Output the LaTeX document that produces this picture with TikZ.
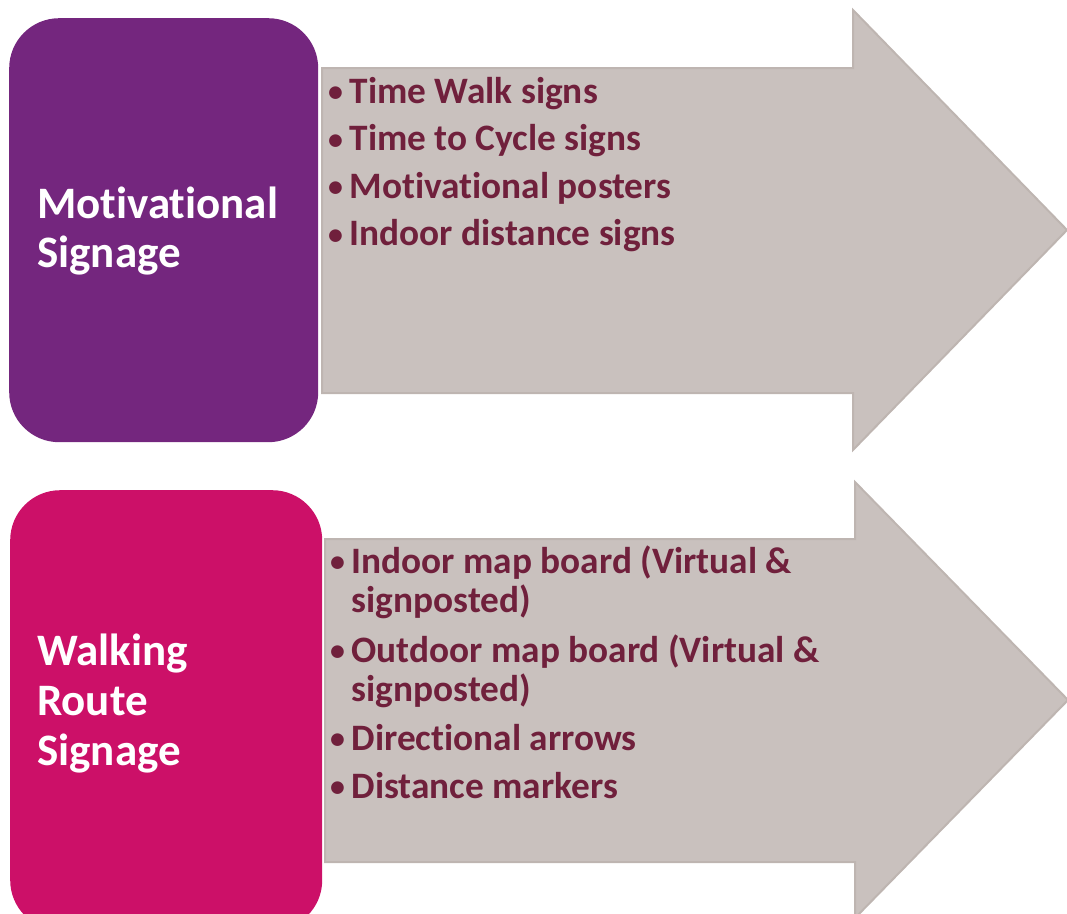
\documentclass[tikz,border=0pt]{standalone}
\usepackage{fontspec}
\setmainfont{Carlito}[Ligatures=NoCommon]
\usetikzlibrary{positioning}

\definecolor{motivpurple}{HTML}{74267E}
\definecolor{walkpink}{HTML}{CC1068}
\definecolor{arrowgrey}{HTML}{C9C1BE}
\definecolor{arrowedge}{HTML}{BEB5B1}
\definecolor{itemred}{HTML}{70203C}

\newcommand{\itm}{\makebox[21.5pt][l]{\raisebox{0.03em}{\scalebox{0.8}{\textbullet}}}}
\tikzset{
  catbox/.style={draw=none, rounded corners=50pt, inner sep=0pt},
  catlabel/.style={anchor=base west, text width=275pt, align=flush left, text=white,
    font=\fontsize{45}{49}\selectfont\bfseries, inner sep=0pt},
  bigarrow/.style={fill=arrowgrey, draw=arrowedge, line width=2pt, line join=miter},
  item/.style={anchor=base west, text width=700pt, align=flush left, text=itemred,
    font=\fontsize{37.3}{39.5}\selectfont\bfseries, inner sep=0pt}
}

\begin{document}
\begin{tikzpicture}[x=1pt, y=-1pt]
  \useasboundingbox (0,0) rectangle (1067,913);
  \clip (0,0) rectangle (1067,913);

  % ARROWS
  % top arrow
  \draw[bigarrow] (322,68) -- (853,68) -- (853,10) -- (1067,230)
    -- (853,450) -- (853,393) -- (322,393) -- cycle;
  % bottom arrow
  \draw[bigarrow] (325,539) -- (855,539) -- (855,482) -- (1068,700)
    -- (855,918) -- (855,862) -- (325,862) -- cycle;

  % BOXES
  \node[catbox, fill=motivpurple, minimum width=309pt, minimum height=424pt,
    anchor=north west] (motiv) at (9,18) {};
  \node[catbox, fill=walkpink, minimum width=312pt, minimum height=440pt,
    anchor=north west] (walk) at (10,490) {};

  % labels
  \node[catlabel, font=\fontsize{45}{49}\selectfont\bfseries] (motivlbl) at (37,218) {Motivational\\Signage};
  \node[catlabel, font=\fontsize{45}{50}\selectfont\bfseries] (walklbl) at (37,665) {Walking\\Route\\Signage};

  % TOP LIST
  \foreach \txt [count=\i] in {Time Walk signs, Time to Cycle signs,
      Motivational posters, Indoor distance signs}
    \node[item] (m\i) at (328,{103+47.5*(\i-1)}) {\itm\txt};

  % BOTTOM LIST
  \node[item] (w1) at (330,573) {\itm Indoor map board (Virtual \&\\\hspace*{21.5pt}signposted)};
  \node[item] (w2) at (330,662) {\itm Outdoor map board (Virtual \&\\\hspace*{21.5pt}signposted)};
  \node[item] (w3) at (330,750) {\itm Directional arrows};
  \node[item] (w4) at (330,798) {\itm Distance markers};
\end{tikzpicture}
\end{document}
